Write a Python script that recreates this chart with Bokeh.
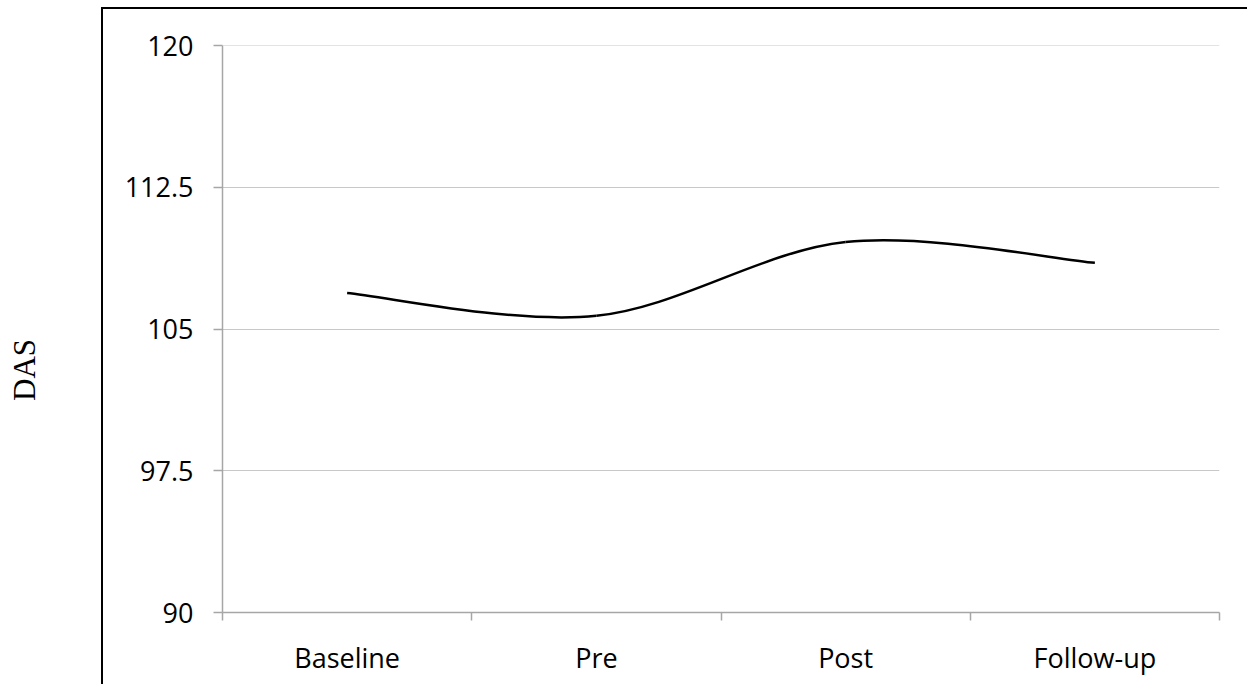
from math import pi
from bokeh.plotting import figure
from bokeh.layouts import row
from bokeh.models import FixedTicker, Label, Range1d, Span
from bokeh.embed import file_html
from bokeh.resources import INLINE

# ---- data ----
categories = ["Baseline", "Pre", "Post", "Follow-up"]
das_values = [106.9, 105.7, 109.6, 108.5]
y_ticks = [90, 97.5, 105, 112.5, 120]
y_label = "DAS"

GRID = "#c8c8c8"
AXIS = "#a6a6a6"

# x positions of categories (category centres between boundary ticks)
xs = [i + 0.5 for i in range(len(categories))]
bounds = list(range(len(categories) + 1))

# ---- left strip holding the y-axis title (outside the chart border) ----
left = figure(width=101, height=686, output_backend="svg", toolbar_location=None,
              x_range=Range1d(0, 1), y_range=Range1d(0, 1),
              x_axis_type=None, y_axis_type=None, min_border=0)
left.outline_line_color = None
left.grid.visible = False
left.add_layout(Label(x=0.235, y=0.421, text=y_label, angle=pi / 2,
                      text_align="center", text_baseline="middle",
                      text_font="Liberation Serif", text_font_size="31px",
                      text_color="black"))

# ---- main chart ----
p = figure(width=1146, height=677, output_backend="svg", toolbar_location=None,
           x_range=Range1d(0, len(categories)), y_range=Range1d(y_ticks[0], y_ticks[-1]),
           min_border_left=119, min_border_top=36, min_border_right=30, min_border_bottom=74,
           margin=(7, 0, 0, 0),
           styles={"border-top": "2px solid black", "border-left": "2px solid black"})
p.outline_line_color = None
p.background_fill_color = "white"
p.border_fill_color = "white"

# smoothed line (Catmull-Rom -> cubic Bezier, like a spreadsheet "smoothed line")
pts = list(zip(xs, das_values))
x0, y0, x1, y1, cx0, cy0, cx1, cy1 = [], [], [], [], [], [], [], []
n = len(pts)
for i in range(n - 1):
    pa = pts[max(i - 1, 0)]
    pb = pts[i]
    pc = pts[i + 1]
    pd = pts[min(i + 2, n - 1)]
    x0.append(pb[0]); y0.append(pb[1])
    x1.append(pc[0]); y1.append(pc[1])
    cx0.append(pb[0] + (pc[0] - pa[0]) / 6.0); cy0.append(pb[1] + (pc[1] - pa[1]) / 6.0)
    cx1.append(pc[0] - (pd[0] - pb[0]) / 6.0); cy1.append(pc[1] - (pd[1] - pb[1]) / 6.0)
p.bezier(x0=x0, y0=y0, x1=x1, y1=y1, cx0=cx0, cy0=cy0, cx1=cx1, cy1=cy1,
         line_color="black", line_width=2.5)

# y axis
yax = p.yaxis[0]
yax.ticker = FixedTicker(ticks=y_ticks, minor_ticks=[])
yax.major_label_overrides = {v: f"{v:g}" for v in y_ticks}
yax.axis_line_color = AXIS
yax.axis_line_width = 1.5
yax.major_tick_line_color = AXIS
yax.major_tick_line_width = 1.5
yax.major_tick_out = 9
yax.major_tick_in = 0
yax.minor_tick_line_color = None
yax.major_label_standoff = 20
yax.major_label_text_font = "Open Sans"
yax.major_label_text_font_size = "27px"
yax.major_label_text_color = "black"

# x axis: boundary ticks as minor ticks, labels at category centres
xax = p.xaxis[0]
xax.ticker = FixedTicker(ticks=xs, minor_ticks=bounds)
xax.major_label_overrides = {x: c for x, c in zip(xs, categories)}
xax.axis_line_color = AXIS
xax.axis_line_width = 1.5
xax.major_tick_line_color = None
xax.major_tick_out = 0
xax.major_tick_in = 0
xax.minor_tick_line_color = AXIS
xax.minor_tick_line_width = 1.5
xax.minor_tick_out = 8
xax.minor_tick_in = 0
xax.major_label_standoff = 18
xax.major_label_text_font = "Open Sans"
xax.major_label_text_font_size = "27px"
xax.major_label_text_color = "black"

# grid
p.xgrid.grid_line_color = None
p.ygrid.ticker = FixedTicker(ticks=y_ticks)
p.ygrid.grid_line_color = GRID
p.ygrid.grid_line_width = 1.2
p.add_layout(Span(location=y_ticks[-1], dimension="width",
                  line_color=GRID, line_width=1.2))

layout = row(left, p, spacing=0)
open("out.html", "w").write(file_html(layout, INLINE))
